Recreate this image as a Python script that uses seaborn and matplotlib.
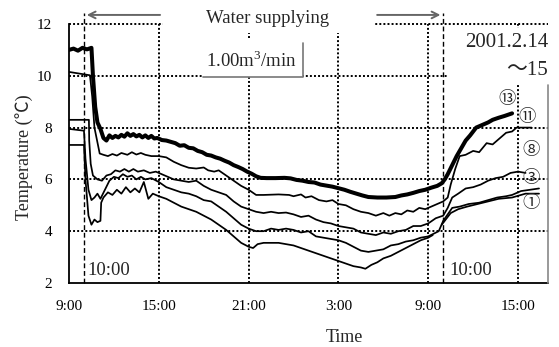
import numpy as np
import matplotlib
matplotlib.use("Agg")
import matplotlib.pyplot as plt
import seaborn as sns
from matplotlib.patches import Rectangle

# ---------------- data (hours elapsed since 9:00 on 2001.2.14) ----------------
h13 = [0, 0.3, 0.6, 0.9, 1.2, 1.5, 1.6, 1.75, 1.9, 2.1, 2.3, 2.5, 2.7, 2.9, 3.1, 3.3, 3.5, 3.7, 3.9,
       4.1, 4.3, 4.5, 4.7, 4.9, 5.1, 5.3, 5.5, 5.7, 5.9, 6.2, 6.5, 6.8, 7.1, 7.4, 7.7, 8.0, 8.3, 8.6,
       8.9, 9.2, 9.5, 9.8, 10.1, 10.4, 10.7, 11.0, 11.3, 11.6, 11.9, 12.2, 12.5, 12.8, 13.2, 13.8,
       14.4, 14.8, 15.2, 15.6, 16.0, 16.4, 16.8, 17.2, 17.6, 18.0, 18.4, 18.8, 19.2, 19.6, 20.0,
       20.6, 21.2, 21.8, 22.2, 22.6, 23.0, 23.4, 23.8, 24.2, 24.6, 24.9, 25.1, 25.3, 25.6, 25.9,
       26.2, 26.5, 26.8, 27.2, 27.6, 28.0, 28.3, 28.7, 29.1, 29.6]
t13 = [11.0, 11.05, 10.97, 11.08, 11.02, 11.08, 10.0, 8.8, 8.2, 7.95, 7.6, 7.5, 7.7, 7.6, 7.68, 7.62,
       7.72, 7.65, 7.78, 7.68, 7.75, 7.66, 7.72, 7.62, 7.7, 7.6, 7.68, 7.58, 7.6, 7.52, 7.5, 7.45,
       7.4, 7.3, 7.32, 7.22, 7.2, 7.1, 7.05, 6.95, 6.92, 6.85, 6.8, 6.72, 6.65, 6.55, 6.48, 6.4, 6.3,
       6.22, 6.12, 6.06, 6.05, 6.05, 6.06, 6.04, 5.98, 5.95, 5.9, 5.88, 5.8, 5.76, 5.72, 5.66, 5.6,
       5.52, 5.45, 5.38, 5.32, 5.3, 5.3, 5.32, 5.38, 5.42, 5.48, 5.55, 5.6, 5.68, 5.75, 5.85, 6.0,
       6.2, 6.55, 6.9, 7.2, 7.5, 7.7, 8.0, 8.1, 8.2, 8.3, 8.38, 8.45, 8.55]

h11 = [0, 1.4, 1.55, 1.7, 2.05, 2.3, 2.6, 2.9, 3.2, 3.5, 3.9, 4.2, 4.5, 4.8, 5.1, 5.5, 6.0, 6.5, 7.0,
       7.5, 8.0, 8.5, 9.0, 9.3, 9.7, 10.0, 10.5, 11.0, 11.5, 12.0, 12.5, 13.0, 14.0, 14.7, 15.0, 15.5,
       15.8, 16.2, 16.7, 17.2, 17.6, 18.0, 18.5, 19.0, 19.5, 20.0, 20.5, 21.0, 21.4, 21.8, 22.2,
       22.6, 23.0, 23.4, 23.8, 24.2, 24.6, 25.0, 25.3, 25.5, 25.8, 26.1, 26.5, 27.0, 27.4, 27.9,
       28.3, 28.8, 29.2, 29.6, 29.9, 30.9]
t11 = [10.15, 10.02, 9.2, 8.0, 7.0, 6.95, 6.9, 6.98, 6.92, 7.02, 6.95, 7.05, 6.96, 7.02, 6.95, 6.9,
       6.9, 6.85, 6.68, 6.55, 6.45, 6.42, 6.46, 6.35, 6.3, 6.35, 6.15, 5.95, 5.75, 5.6, 5.4, 5.4, 5.42,
       5.4, 5.35, 5.42, 5.3, 5.35, 5.2, 5.15, 5.2, 5.05, 5.0, 4.85, 4.75, 4.7, 4.6, 4.7, 4.6, 4.7,
       4.65, 4.8, 4.75, 4.9, 4.85, 4.95, 5.05, 5.15, 5.3, 5.8, 6.4, 6.9, 6.95, 7.1, 7.05, 7.4, 7.35,
       7.6, 7.8, 7.85, 8.0, 8.0]

h8 = [0, 1.33, 1.35, 1.45, 1.6, 1.9, 2.2, 2.5, 2.8, 3.1, 3.4, 3.7, 4.0, 4.3, 4.6, 5.0, 5.4, 5.8, 6.2,
      6.6, 7.0, 7.5, 8.0, 8.5, 9.0, 9.5, 10.0, 10.5, 11.0, 11.5, 12.0, 12.5, 13.0, 13.5, 14.0, 14.5,
      15.0, 15.5, 16.0, 16.5, 17.0, 17.5, 18.0, 18.5, 19.0, 19.5, 20.0, 20.5, 21.0, 21.5, 22.0,
      22.5, 23.0, 23.5, 24.0, 24.5, 25.0, 25.3, 25.6, 26.0, 26.5, 27.0, 27.5, 28.0, 28.5, 29.0,
      29.5, 30.0, 30.5]
t8 = [8.3, 8.3, 7.5, 6.6, 6.15, 6.0, 5.95, 6.15, 6.2, 6.35, 6.3, 6.4, 6.3, 6.4, 6.3, 6.35, 6.25, 6.3,
      6.2, 6.1, 6.0, 5.95, 5.9, 5.95, 5.75, 5.6, 5.5, 5.4, 5.15, 4.95, 4.85, 4.75, 4.7, 4.75, 4.7,
      4.72, 4.65, 4.55, 4.6, 4.45, 4.35, 4.3, 4.2, 4.15, 4.1, 3.95, 3.9, 3.85, 3.95, 3.9, 4.0, 4.05,
      4.2, 4.2, 4.3, 4.5, 4.6, 4.9, 5.3, 5.45, 5.65, 5.7, 5.8, 5.95, 6.05, 6.1, 6.25, 6.3, 6.25]

h3 = [0, 1.0, 1.1, 1.3, 1.5, 1.7, 1.9, 2.1, 2.4, 2.7, 3.0, 3.3, 3.6, 3.9, 4.2, 4.5, 4.8, 5.1, 5.5,
      6.0, 6.5, 7.0, 7.5, 8.0, 8.5, 9.0, 9.5, 10.0, 10.5, 11.0, 11.5, 12.0, 12.5, 13.0, 13.5, 14.0,
      14.5, 15.0, 15.5, 16.0, 16.5, 17.0, 17.5, 18.0, 18.5, 19.0, 19.5, 20.0, 20.5, 21.0, 21.5,
      22.0, 22.5, 23.0, 23.5, 24.0, 24.7, 25.0, 25.6, 26.1, 26.7, 27.4, 28.0, 28.6, 29.2, 29.6,
      30.2, 30.8, 31.4]
t3 = [7.95, 7.88, 6.8, 5.6, 5.2, 5.3, 5.45, 5.25, 5.6, 5.95, 6.1, 6.05, 6.2, 6.1, 6.15, 6.0, 6.1,
      6.0, 6.05, 5.9, 5.7, 5.6, 5.5, 5.45, 5.35, 5.2, 5.15, 4.95, 4.75, 4.5, 4.25, 4.1, 4.0, 4.0,
      4.1, 4.05, 4.1, 4.05, 3.95, 4.0, 3.8, 3.75, 3.7, 3.65, 3.55, 3.4, 3.25, 3.2, 3.25, 3.3, 3.45,
      3.5, 3.6, 3.65, 3.75, 3.8, 4.0, 4.4, 4.9, 4.95, 5.05, 5.1, 5.2, 5.3, 5.35, 5.4, 5.55, 5.6,
      5.65]

h1a = [0, 1.0, 1.1, 1.3, 1.5, 1.7, 1.9, 2.1, 2.15, 2.3, 2.6, 2.9, 3.2, 3.5, 3.8, 4.1, 4.4, 4.7, 5.0,
       5.3, 5.6, 6.0, 6.5, 7.0, 7.5, 8.0, 8.5, 9.0, 9.5, 10.0, 10.5, 11.0, 11.5, 12.0, 12.3, 12.6,
       13.0, 14.0, 14.5, 15.0, 15.5, 16.0, 16.5, 17.0, 17.5, 18.0, 18.5, 19.0, 19.5, 19.8, 20.2,
       20.6, 21.0, 21.5, 22.0, 22.5, 23.0, 23.5, 24.0, 24.3]
t1a = [7.33, 7.33, 6.0, 4.6, 4.25, 4.45, 4.35, 4.4, 5.1, 5.3, 5.5, 5.4, 5.6, 5.45, 5.7, 5.5, 5.65,
       5.5, 5.9, 5.25, 5.45, 5.35, 5.25, 5.1, 4.95, 4.85, 4.75, 4.6, 4.45, 4.25, 4.05, 3.8, 3.55,
       3.4, 3.35, 3.5, 3.55, 3.55, 3.5, 3.45, 3.35, 3.25, 3.15, 3.05, 2.95, 2.85, 2.75, 2.65, 2.6,
       2.55, 2.7, 2.8, 2.95, 3.05, 3.2, 3.35, 3.5, 3.65, 3.75, 3.85]
h1b = [24.9, 25.5, 26.0, 26.6, 27.3, 28.0, 28.7, 29.6, 30.5, 31.4]
t1b = [4.25, 4.7, 4.85, 4.95, 5.05, 5.15, 5.25, 5.3, 5.45, 5.45]

xtick_pos = [0, 6, 12, 18, 24, 30]
xtick_labels = ["9:00", "15:00", "21:00", "3:00", "9:00", "15:00"]
ytick_pos = [2, 4, 6, 8, 10, 12]
series_labels = ["⑬", "⑪", "⑧", "③", "①"]
label_pos = [(29.3, 9.1), (30.6, 8.4), (30.9, 7.13), (30.9, 6.05), (30.9, 5.1)]

# ---------------- style ----------------
sns.set_theme(style="white")
plt.rcParams["font.family"] = ["Liberation Serif", "Noto Sans CJK JP", "DejaVu Sans"]
plt.rcParams["mathtext.fontset"] = "custom"
plt.rcParams["mathtext.rm"] = "Liberation Serif"

W, H = 559, 347
fig = plt.figure(figsize=(W / 100, H / 100), dpi=100)
ax = fig.add_axes([69 / W, 1 - 283 / H, (548 - 69) / W, (283 - 24) / H])
ax.set_xlim(0, 32)
ax.set_ylim(2, 12)

# grid (dotted)
for y in [4, 6, 8, 10, 12]:
    ax.axhline(y, color="black", lw=1.4, ls=(0, (1, 1.1)), zorder=1, clip_on=False)
for x in [6, 12, 18, 24, 30]:
    ax.axvline(x, color="black", lw=1.4, ls=(0, (1, 1.1)), zorder=1)
# 10:00 dashed markers
for x in [1, 25]:
    ax.plot([x, x], [2, 12.42], color="black", lw=1.0, ls=(0, (3.5, 2)), zorder=2, clip_on=False)

# data lines
kw = dict(ax=ax, color="black", estimator=None, sort=False, legend=False)
sns.lineplot(x=h13, y=t13, lw=2.9, zorder=3, **kw)
sns.lineplot(x=h11, y=t11, lw=1.25, zorder=3, **kw)
sns.lineplot(x=h8, y=t8, lw=1.25, zorder=3, **kw)
sns.lineplot(x=h3, y=t3, lw=1.25, zorder=3, **kw)
sns.lineplot(x=h1a, y=t1a, lw=1.25, zorder=3, **kw)
sns.lineplot(x=h1b, y=t1b, lw=1.25, zorder=3, **kw)

# white masks behind annotation texts
ax.add_patch(Rectangle((6.27, 11.65), 20.4 - 6.27, 1.0, facecolor="white", edgecolor="none",
                       zorder=4, clip_on=False))
ax.add_patch(Rectangle((8.93, 9.97), 15.6 - 8.93, 11.38 - 9.97, facecolor="white", edgecolor="none",
                       zorder=4, clip_on=False))
ax.add_patch(Rectangle((25.27, 9.64), 8.0, 11.85 - 9.64, facecolor="white", edgecolor="none",
                       zorder=4, clip_on=False))

# box around flow rate
ax.plot([8.93, 15.6, 15.6], [9.97, 9.97, 11.27], color="#777777", lw=1.2, zorder=5, clip_on=False)
ax.text(12.2, 10.6, "1.00m$^3$/min", ha="center", va="center", fontsize=13.5, zorder=6)

# water supplying arrows + text
ax.annotate("", xy=(1.0, 12.35), xytext=(6.27, 12.35),
            arrowprops=dict(arrowstyle="->", color="#666666", lw=1.4), annotation_clip=False, zorder=6)
ax.annotate("", xy=(25.0, 12.35), xytext=(20.4, 12.35),
            arrowprops=dict(arrowstyle="->", color="#666666", lw=1.4), annotation_clip=False, zorder=6)
ax.text(13.27, 12.2, "Water supplying", ha="center", va="center", fontsize=13.5, zorder=6, clip_on=False)

# date
ax.text(32, 11.3, "2001.2.14", ha="right", va="center", fontsize=15, zorder=6, clip_on=False)
ax.text(32, 10.22, "～15", ha="right", va="center", fontsize=15, zorder=6, clip_on=False,
        family=["Liberation Serif", "Noto Sans CJK JP"])

# 10:00 labels
ax.text(1.25, 2.5, "10:00", ha="left", va="center", fontsize=13.5, zorder=6)
ax.text(25.4, 2.5, "10:00", ha="left", va="center", fontsize=13.5, zorder=6)

# series labels
for lab, (x, y) in zip(series_labels, label_pos):
    ax.text(x, y, lab, ha="center", va="center", fontsize=12.5, zorder=6,
            family=["Noto Sans CJK JP", "DejaVu Sans"])

# spines
for s in ["top", "right"]:
    ax.spines[s].set_visible(False)
for s in ["left", "bottom"]:
    ax.spines[s].set_color("black")
    ax.spines[s].set_linewidth(1.3)
ax.plot([32, 32], [2, 9.64], color="#888888", lw=1.2, zorder=5, clip_on=False)

ax.set_xticks(xtick_pos)
ax.set_xticklabels(xtick_labels)
ax.set_yticks(ytick_pos)
ax.tick_params(length=0, labelsize=11, colors="black")
ax.tick_params(axis="x", pad=12)
ax.tick_params(axis="y", pad=12)
ax.set_xlabel("")
ax.set_ylabel("")

fig.text(344 / W, 1 - 338 / H, "Time", ha="center", va="center", fontsize=13)
fig.text(24 / W, 1 - 157 / H, "Temperature (℃)", ha="center", va="center", rotation=90, fontsize=13,
         family=["Liberation Serif", "Noto Sans CJK JP"])

fig.savefig("out.png", dpi=100, facecolor="white")
